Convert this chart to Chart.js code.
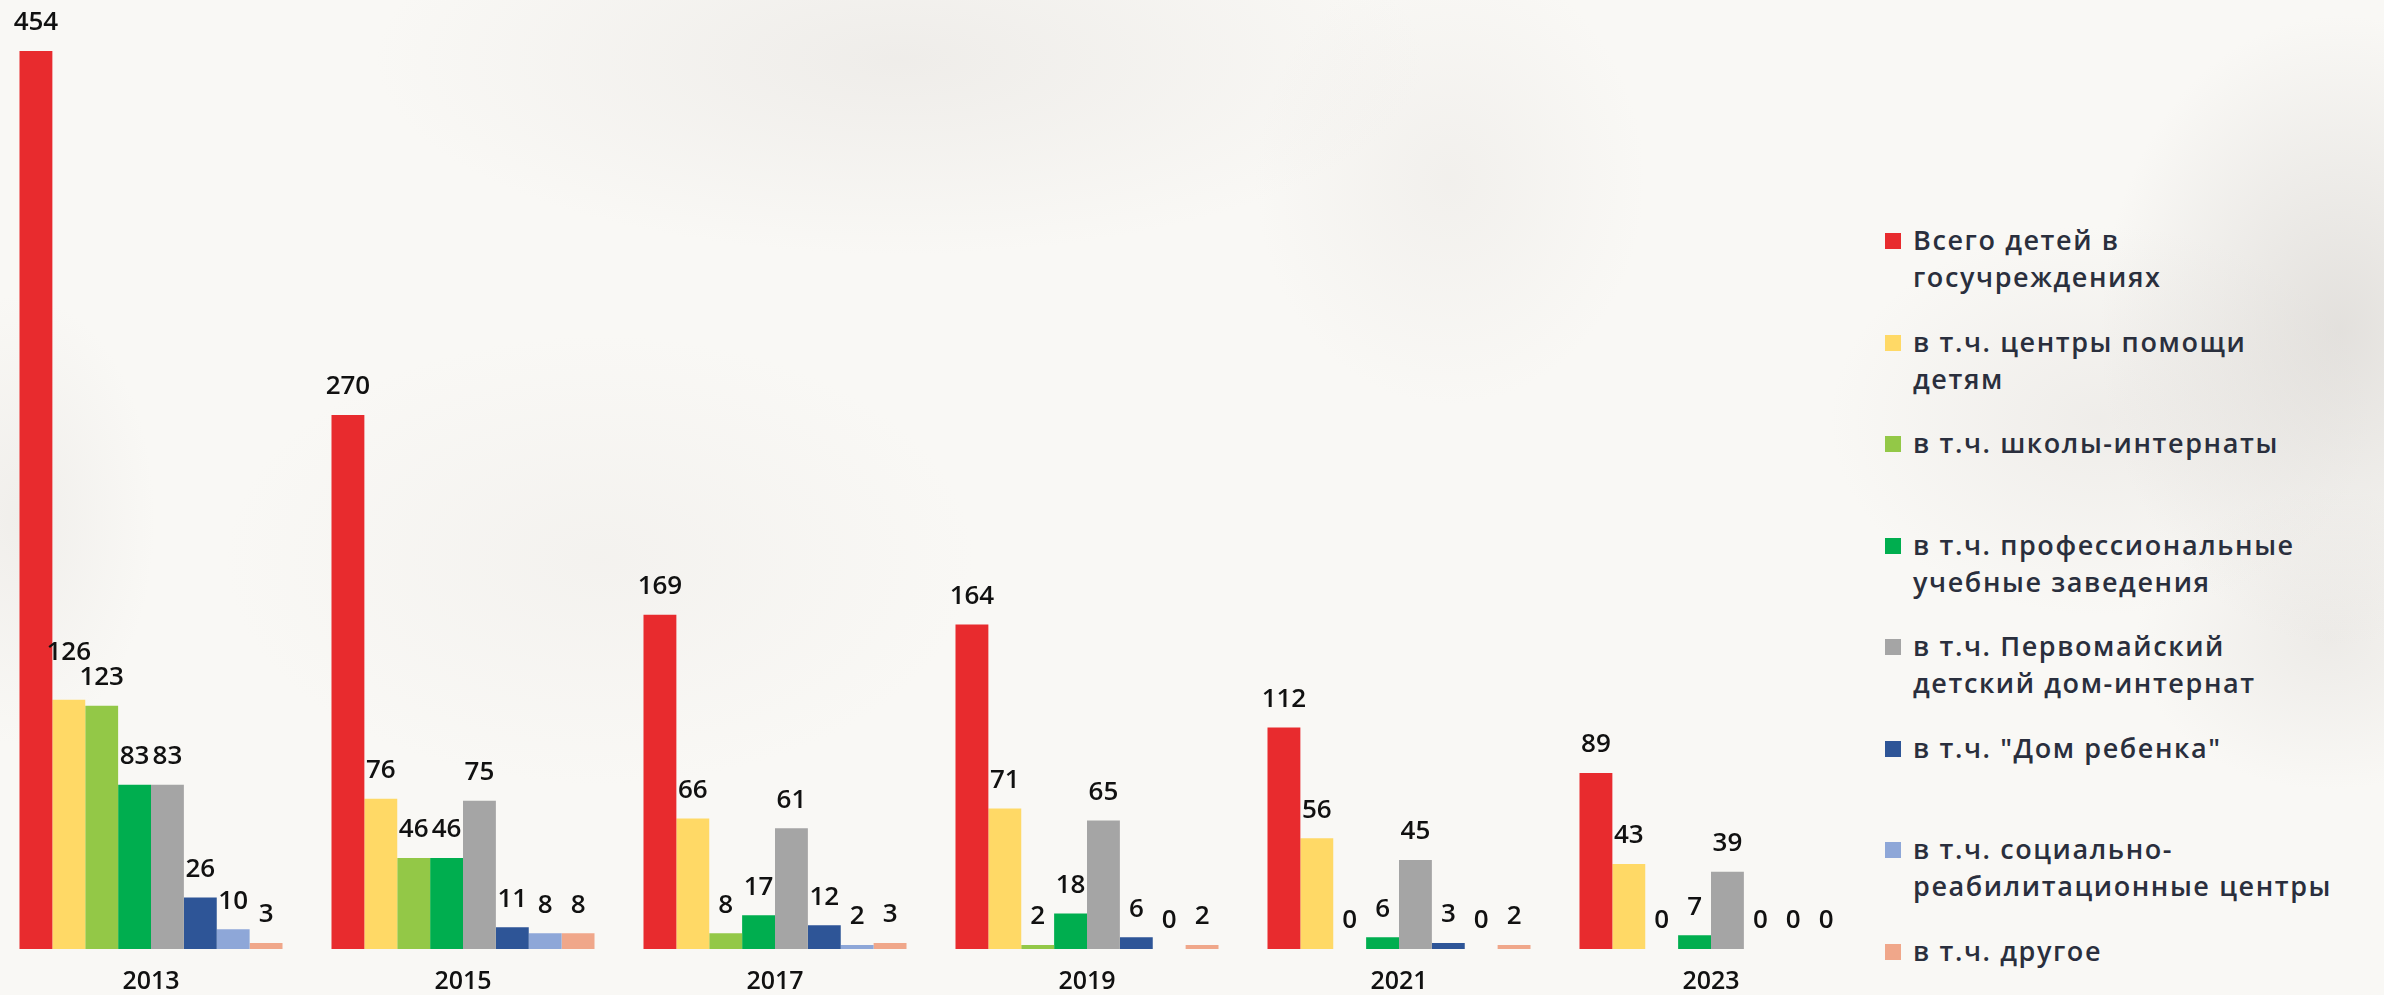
<!DOCTYPE html>
<html>
<head>
<meta charset="utf-8">
<script src="https://cdn.jsdelivr.net/npm/chart.js@4"></script>
<style>
  html, body { margin:0; padding:0; }
  body {
    width:2384px; height:995px; overflow:hidden; position:relative;
    background-color:#f9f8f5;
    background-image:
      radial-gradient(ellipse 700px 260px at 900px 60px, rgba(220,216,212,0.35), rgba(220,216,212,0) 75%),
      radial-gradient(ellipse 260px 300px at 1450px 180px, rgba(225,221,217,0.30), rgba(225,221,217,0) 75%),
      radial-gradient(ellipse 500px 300px at 600px 560px, rgba(228,224,220,0.25), rgba(228,224,220,0) 75%),
      radial-gradient(ellipse 180px 300px at 20px 520px, rgba(220,216,212,0.30), rgba(220,216,212,0) 75%),
      radial-gradient(ellipse 320px 420px at 2340px 330px, rgba(205,201,197,0.50), rgba(205,201,197,0) 75%),
      radial-gradient(ellipse 360px 260px at 2100px 420px, rgba(220,216,212,0.35), rgba(220,216,212,0) 75%),
      radial-gradient(ellipse 260px 200px at 2330px 640px, rgba(215,211,207,0.35), rgba(215,211,207,0) 75%);
  }
  #wrap { position:absolute; left:-5px; top:0; width:1872px; height:995px; }
  #legend { position:absolute; left:1885px; top:221px; font-family:"Open Sans", sans-serif; font-weight:600; font-size:27px; color:#2a2f3d; letter-spacing:1.6px; }
  .item { height:101.5px; display:flex; align-items:flex-start; }
  .sw { width:16px; height:16px; margin-top:12px; margin-right:12px; flex:none; }
  .txt { line-height:37px; white-space:nowrap; }
</style>
</head>
<body>
<div id="wrap"><canvas id="c"></canvas></div>
<div id="legend"></div>
<script>
const years = ["2013", "2015", "2017", "2019", "2021", "2023"];
const seriesNames = [
  ["Всего детей в", "госучреждениях"],
  ["в т.ч. центры помощи", "детям"],
  ["в т.ч. школы-интернаты"],
  ["в т.ч. профессиональные", "учебные заведения"],
  ["в т.ч. Первомайский", "детский дом-интернат"],
  ["в т.ч. \"Дом ребенка\""],
  ["в т.ч. социально-", "реабилитационные центры"],
  ["в т.ч. другое"]
];
const totalChildren   = [454, 270, 169, 164, 112, 89];
const helpCenters     = [126, 76, 66, 71, 56, 43];
const boardingSchools = [123, 46, 8, 2, 0, 0];
const vocational      = [83, 46, 17, 18, 6, 7];
const pervomaisky     = [83, 75, 61, 65, 45, 39];
const babyHome        = [26, 11, 12, 6, 3, 0];
const rehabCenters    = [10, 8, 2, 0, 0, 0];
const otherInst       = [3, 8, 3, 2, 2, 0];
const seriesValues = [totalChildren, helpCenters, boardingSchools, vocational, pervomaisky, babyHome, rehabCenters, otherInst];
const colors = ["#e82b2e", "#ffd966", "#93c847", "#00ae4f", "#a5a5a5", "#2e5597", "#8ea7d8", "#f0a78a"];
const yMax = 454;

const valueLabels = {
  id: 'valueLabels',
  afterDatasetsDraw(chart) {
    const ctx = chart.ctx;
    ctx.save();
    ctx.font = '600 26px "Open Sans", sans-serif';
    ctx.fillStyle = '#111';
    ctx.textAlign = 'center';
    ctx.textBaseline = 'middle';
    chart.data.datasets.forEach((ds, i) => {
      const meta = chart.getDatasetMeta(i);
      meta.data.forEach((bar, j) => {
        let y = bar.y - 28;
        // lift a label that would collide with the taller neighbour label on its right
        const next = chart.data.datasets[i + 1];
        if (i === 1 && next && Math.abs(ds.data[j] - next.data[j]) <= 5 && ds.data[j] > 100) y -= 19;
        ctx.fillText(String(ds.data[j]), bar.x, y);
      });
    });
    ctx.restore();
  }
};

new Chart(document.getElementById('c'), {
  type: 'bar',
  data: {
    labels: years,
    datasets: seriesValues.map((vals, i) => ({
      label: seriesNames[i].join(' '),
      data: vals,
      backgroundColor: colors[i],
      borderWidth: 0,
      categoryPercentage: 0.843,
      barPercentage: 1.0
    }))
  },
  options: {
    responsive: true,
    maintainAspectRatio: false,
    animation: false,
    layout: { padding: { top: 51, left: 0, right: 0, bottom: 0 } },
    plugins: { legend: { display: false }, tooltip: { enabled: false } },
    scales: {
      x: {
        grid: { display: false, drawTicks: false },
        border: { display: false },
        ticks: { color: '#111', font: { family: 'Open Sans', size: 25, weight: '600' }, padding: 18 },
        afterFit(scale) { scale.height = 46; }
      },
      y: {
        display: false,
        min: 0,
        max: yMax
      }
    }
  },
  plugins: [valueLabels]
});

const legend = document.getElementById('legend');
seriesNames.forEach((lines, i) => {
  const item = document.createElement('div');
  item.className = 'item';
  const sw = document.createElement('div');
  sw.className = 'sw';
  sw.style.background = colors[i];
  const txt = document.createElement('div');
  txt.className = 'txt';
  lines.forEach((l, k) => {
    if (k) txt.appendChild(document.createElement('br'));
    txt.appendChild(document.createTextNode(l));
  });
  item.appendChild(sw);
  item.appendChild(txt);
  legend.appendChild(item);
});
</script>
</body>
</html>
